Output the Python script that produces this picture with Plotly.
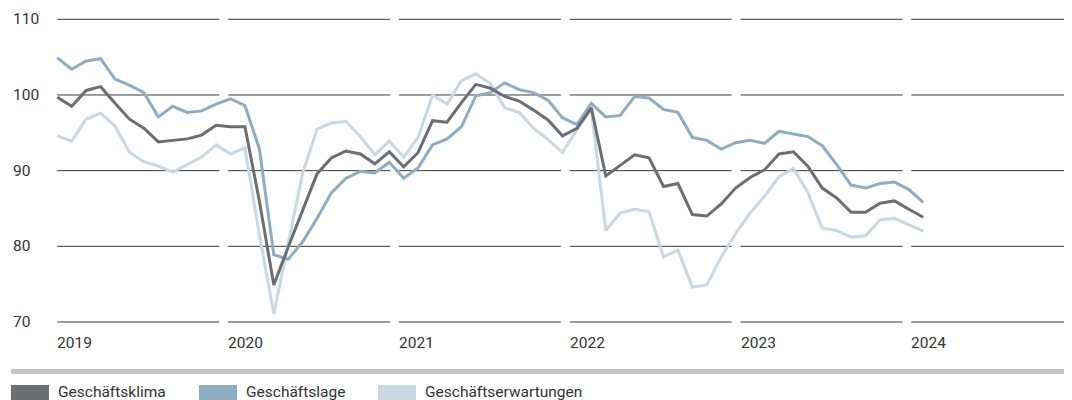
import plotly.graph_objects as go

# ---------------- data ----------------
YEARS = [2019, 2020, 2021, 2022, 2023, 2024]
Y_TICKS = [70, 80, 90, 100, 110]
SERIES_NAMES = ["Geschäftsklima", "Geschäftslage", "Geschäftserwartungen"]

# monthly values, Jan 2019 .. Jan 2024
klima = [99.7, 98.5, 100.6, 101.1, 98.9, 96.8, 95.6, 93.8, 94.0, 94.2, 94.7, 96.0,
         95.8, 95.8, 86.0, 74.9, 79.9, 84.8, 89.6, 91.7, 92.6, 92.2, 90.9, 92.5,
         90.5, 92.4, 96.6, 96.4, 99.0, 101.4, 100.9, 99.8, 99.2, 98.0, 96.7, 94.6,
         95.6, 98.3, 89.3, 90.7, 92.1, 91.7, 87.9, 88.3, 84.2, 84.0, 85.6, 87.7,
         89.1, 90.1, 92.2, 92.5, 90.6, 87.7, 86.4, 84.5, 84.5, 85.7, 86.0, 84.9,
         83.85]
lage = [104.9, 103.4, 104.5, 104.8, 102.1, 101.3, 100.3, 97.1, 98.5, 97.7, 97.9, 98.8,
        99.5, 98.6, 92.9, 78.9, 78.3, 80.6, 83.7, 87.1, 89.0, 89.9, 89.7, 91.1,
        89.0, 90.4, 93.4, 94.2, 95.8, 99.9, 100.3, 101.6, 100.7, 100.3, 99.3, 97.0,
        96.1, 98.9, 97.1, 97.3, 99.8, 99.6, 98.1, 97.7, 94.4, 94.0, 92.85, 93.7,
        94.0, 93.6, 95.2, 94.8, 94.5, 93.3, 90.8, 88.1, 87.7, 88.3, 88.5, 87.5,
        85.8]
erwartungen = [94.6, 93.9, 96.8, 97.6, 95.9, 92.4, 91.2, 90.6, 89.8, 90.8, 91.8, 93.4,
               92.2, 93.0, 81.5, 71.1, 80.5, 89.7, 95.5, 96.3, 96.5, 94.5, 92.1, 93.9,
               91.8, 94.4, 100.0, 98.8, 101.9, 102.8, 101.5, 98.3, 97.7, 95.6, 94.1, 92.4,
               95.4, 98.1, 82.1, 84.4, 84.9, 84.6, 78.6, 79.5, 74.6, 74.9, 78.6, 81.7,
               84.4, 86.6, 89.2, 90.3, 87.1, 82.4, 82.1, 81.2, 81.4, 83.5, 83.7, 82.8,
               82.0]

# ---------------- layout constants ----------------
W, H = 1072, 400
PAGE_OFF = 8                # default body margin of the page
ML, MR = 50 - PAGE_OFF, 0
MT = 10 - PAGE_OFF
MB = H - (330 - PAGE_OFF)
PX_PER_MONTH = 14.433
X0_OFFSET_PX = 7.3          # first data point sits 7.3px right of plot edge
YEAR_SPAN = 170.8 / PX_PER_MONTH   # spacing of year blocks in month units
SEG_LEN = 162.0 / PX_PER_MONTH     # length of each gridline segment
PX_PER_UNIT = 7.5675
Y_TOP_PAD = 9.3
COLORS = ["#6d6e71", "#8fadc2", "#cad8e2"]
TEXT_COLOR = "#333333"
GRID_COLOR = "#3a3a3a"
FONT = "Roboto"
FS = 15.5

plot_w = W - ML - MR
plot_h = H - MT - MB
x_min = -X0_OFFSET_PX / PX_PER_MONTH
x_max = x_min + plot_w / PX_PER_MONTH
y_max = max(Y_TICKS) + Y_TOP_PAD / PX_PER_UNIT
y_min = y_max - plot_h / PX_PER_UNIT


def px_x(p):
    return (p - PAGE_OFF - ML) / plot_w


def px_y(p):
    return (H - MB - (p - PAGE_OFF)) / plot_h


months = list(range(len(klima)))

fig = go.Figure()
for name, vals, col in [(SERIES_NAMES[2], erwartungen, COLORS[2]),
                        (SERIES_NAMES[1], lage, COLORS[1]),
                        (SERIES_NAMES[0], klima, COLORS[0])]:
    fig.add_trace(go.Scatter(x=months, y=vals, mode="lines", name=name,
                             line=dict(color=col, width=3), showlegend=False,
                             hoverinfo="skip"))

shapes = []
annotations = []
# broken gridlines, one segment per year
for k, yr in enumerate(YEARS):
    xs = k * YEAR_SPAN
    xe = xs + SEG_LEN if k < len(YEARS) - 1 else x_max + 1
    for v in Y_TICKS:
        shapes.append(dict(type="line", xref="x", yref="y", x0=xs, x1=xe, y0=v, y1=v,
                           line=dict(color=GRID_COLOR, width=1), layer="below"))
    annotations.append(dict(xref="x", yref="paper", x=xs, y=px_y(342.5),
                            text=str(yr), showarrow=False, xanchor="left",
                            yanchor="middle", xshift=-2,
                            font=dict(family=FONT, size=FS, color=TEXT_COLOR)))

for v in Y_TICKS:
    annotations.append(dict(xref="paper", yref="y", x=px_x(11), y=v, text=str(v),
                            showarrow=False, xanchor="left", yanchor="middle",
                            font=dict(family=FONT, size=FS, color=TEXT_COLOR)))

# separator bar
shapes.append(dict(type="rect", xref="paper", yref="paper", x0=px_x(11), x1=1.05,
                   y0=px_y(374), y1=px_y(369), fillcolor="#c4c4c4", line=dict(width=0)))

# legend
LEG_X = [11, 199, 378]
for name, col, lx in zip(SERIES_NAMES, COLORS, LEG_X):
    shapes.append(dict(type="rect", xref="paper", yref="paper", x0=px_x(lx), x1=px_x(lx + 38),
                       y0=px_y(402), y1=px_y(385), fillcolor=col, line=dict(width=0)))
    annotations.append(dict(xref="paper", yref="paper", x=px_x(lx + 45), y=px_y(391.5),
                            text=name, showarrow=False, xanchor="left", yanchor="middle",
                            font=dict(family=FONT, size=FS, color=TEXT_COLOR)))

fig.update_layout(
    width=W, height=H,
    margin=dict(l=ML, r=MR, t=MT, b=MB, pad=0),
    paper_bgcolor="white", plot_bgcolor="white",
    xaxis=dict(range=[x_min, x_max], visible=False, fixedrange=True),
    yaxis=dict(range=[y_min, y_max], visible=False, fixedrange=True),
    shapes=shapes, annotations=annotations,
    showlegend=False,
)

fig.write_html("out.html")
